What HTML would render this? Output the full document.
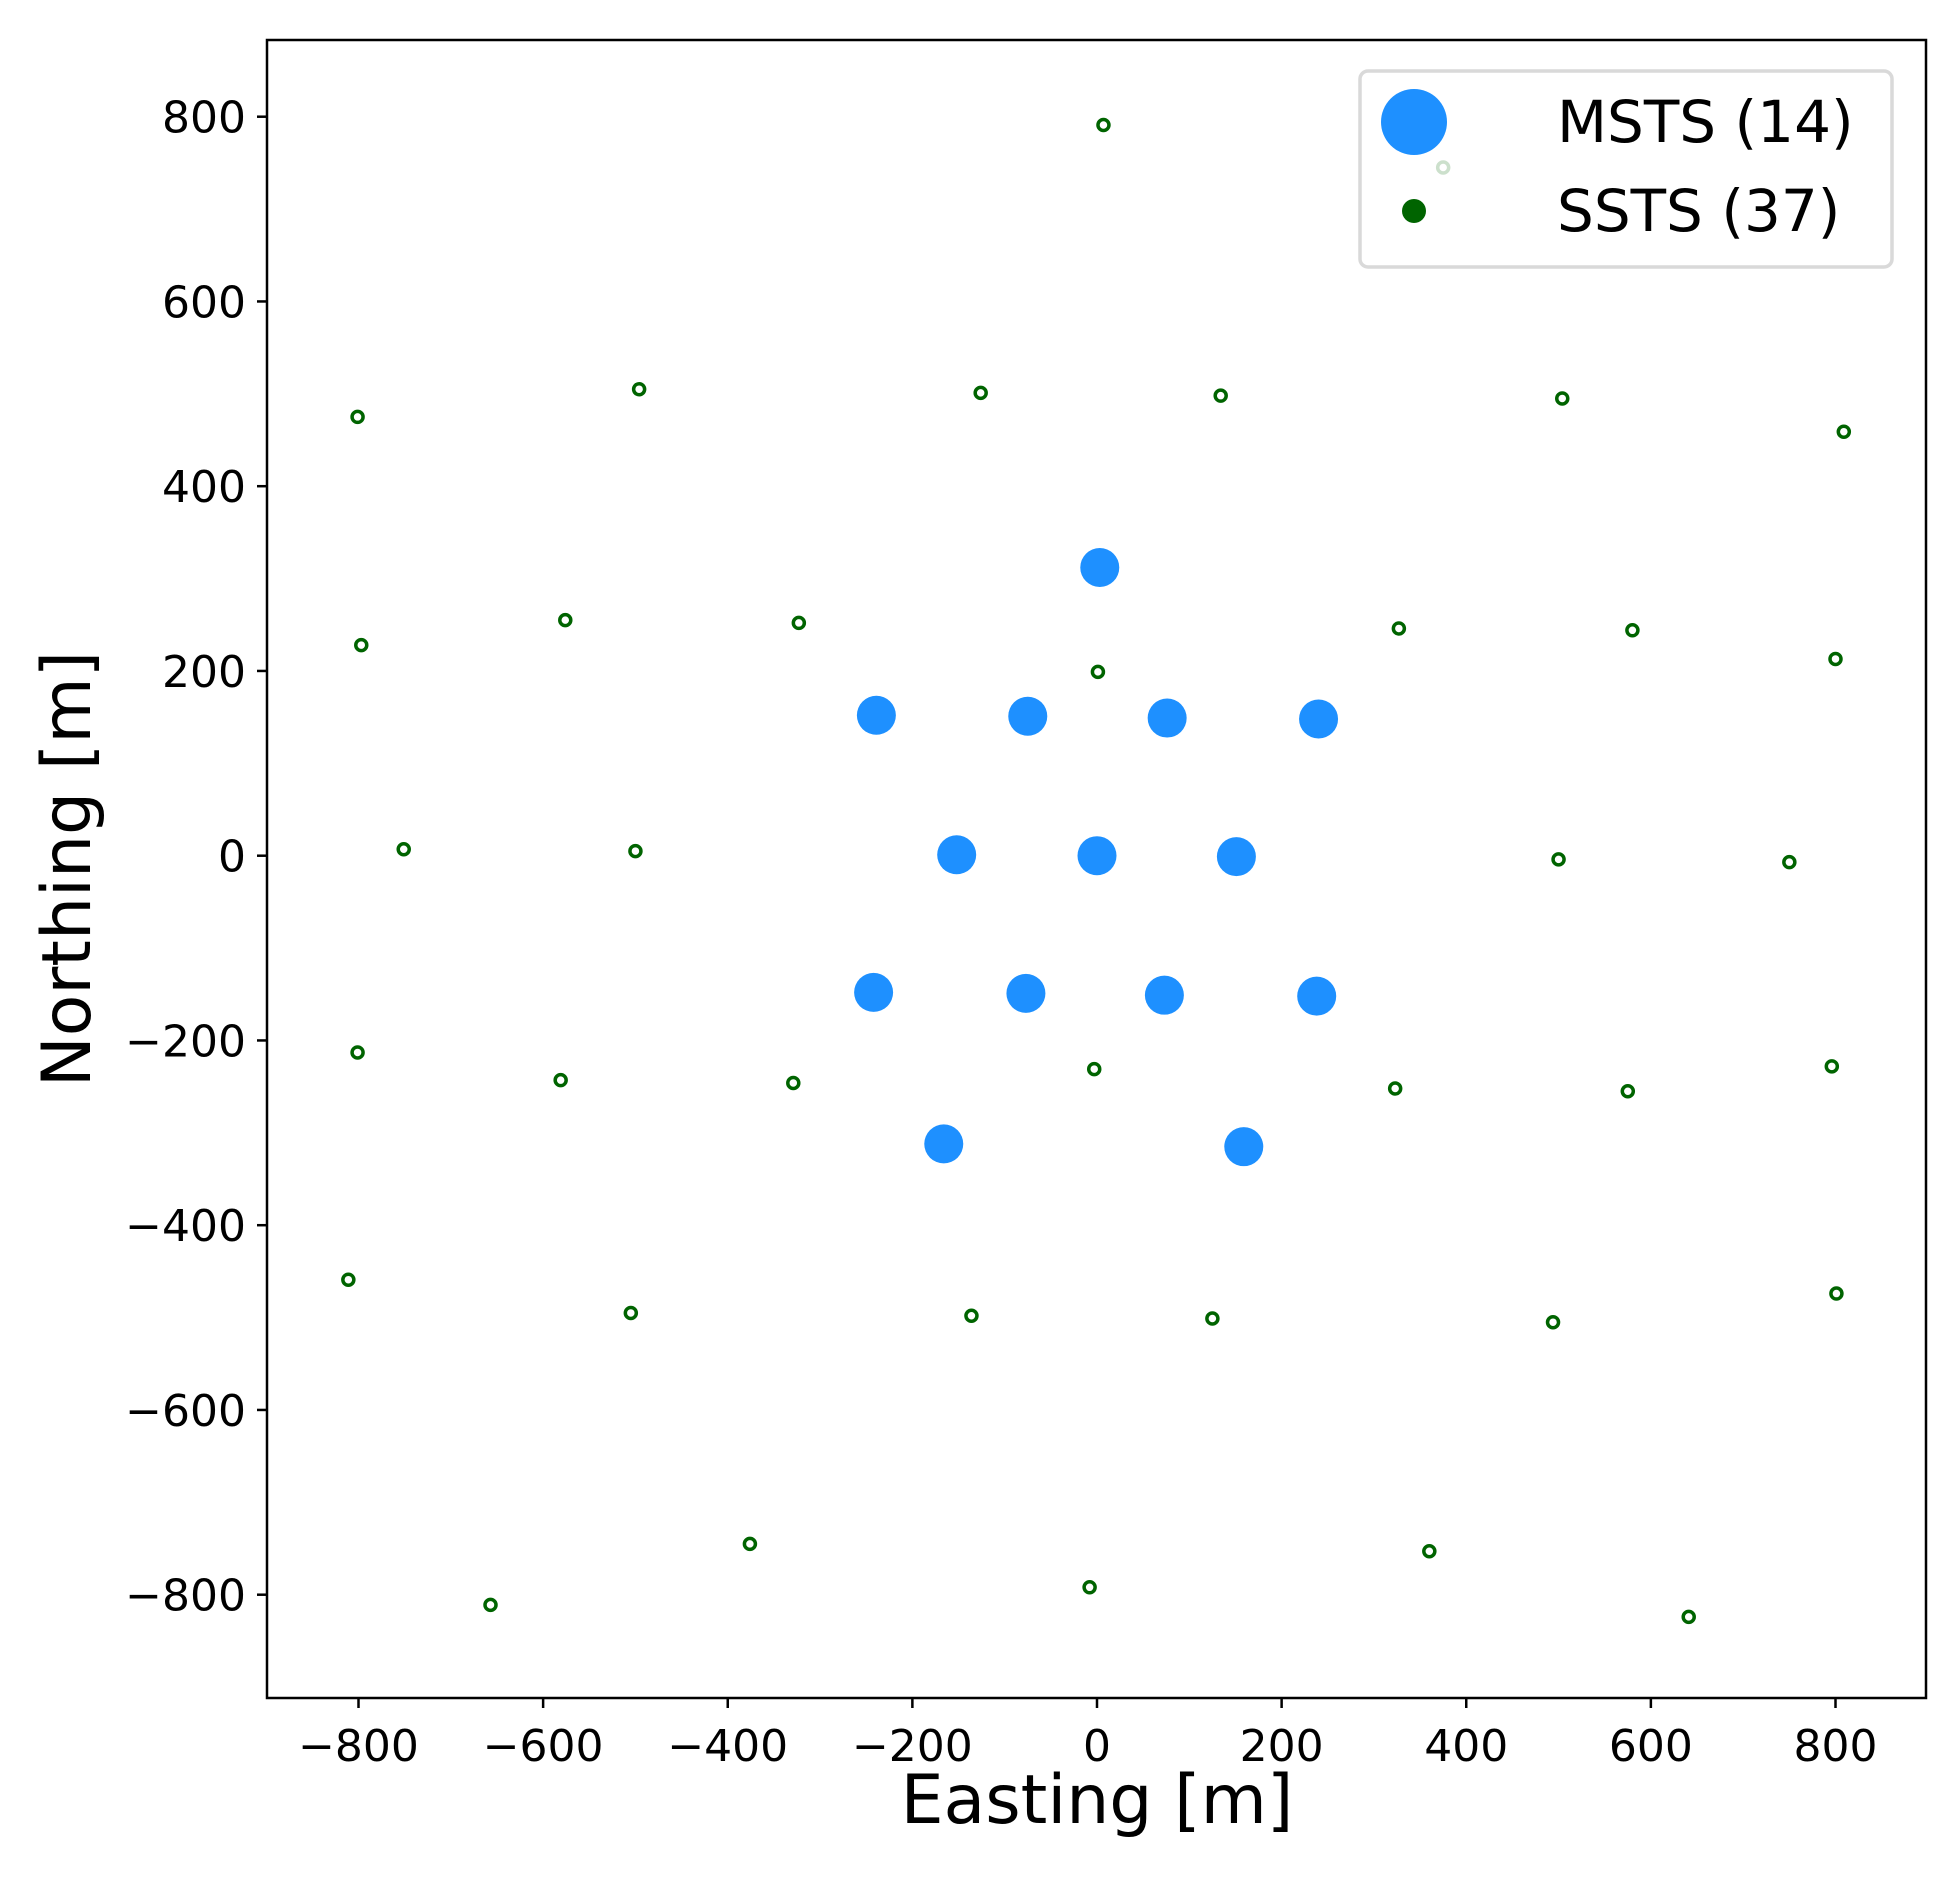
<!DOCTYPE html>
<html><head><meta charset="utf-8"><style>
html,body{margin:0;padding:0;background:#fff;}
svg{display:block;font-family:"DejaVu Sans","Liberation Sans",sans-serif;}
</style></head><body>
<svg id="chart" width="1956" height="1877" viewBox="0 0 1956 1877" xmlns="http://www.w3.org/2000/svg">
<rect x="0" y="0" width="1956" height="1877" fill="#fff"/>
<g id="ticks"></g>
<g id="ssts"></g>
<g id="msts"></g>
<rect x="267" y="40" width="1659" height="1658" fill="none" stroke="#000" stroke-width="2.5"/>
<g>
<rect x="1360" y="71" width="532" height="196" rx="8" fill="#fff" fill-opacity="0.8" stroke="#d9d9d9" stroke-width="3.5"/>
<circle cx="1414" cy="122" r="33" fill="#1e90ff"/>
<text x="1557" y="142" font-size="58" fill="#000">MSTS (14)</text>
<circle cx="1414" cy="211" r="12" fill="#006400"/>
<text x="1557" y="231" font-size="58" fill="#000">SSTS (37)</text>
</g>
<text x="1097" y="1823" font-size="68" text-anchor="middle">Easting [m]</text>
<text transform="translate(90,869) rotate(-90)" font-size="68" text-anchor="middle">Northing [m]</text>
</svg>
<script>
const xTicks = [-800,-600,-400,-200,0,200,400,600,800];
const yTicks = [-800,-600,-400,-200,0,200,400,600,800];
const mstsX = [3,-239,-75,76,240,-152,0,151,-242,-77,73,238,-166,159];
const mstsY = [312,152,151,149,148,1,0,-1,-148,-149,-151,-152,-312,-315];
const sstsX = [7,375,-801,-496,-126,134,504,809,-797,-576,-323,1,327,580,800,-751,-500,500,750,-801,-581,-329,-3,323,575,796,-811,-505,-136,125,494,801,-376,-657,-8,360,641];
const sstsY = [791,745,475,505,501,498,495,459,228,255,252,199,246,244,213,7,5,-4,-7,-213,-243,-246,-231,-252,-255,-228,-459,-495,-498,-501,-505,-474,-745,-811,-792,-753,-824];
const NS = 'http://www.w3.org/2000/svg';
function sx(v){ return 1097 + v * (1477/1600); }
function sy(v){ return 855.7 - v * (1478/1600); }
const tg = document.getElementById('ticks');
function mk(tag, attrs, parent){ const e=document.createElementNS(NS,tag); for(const k in attrs) e.setAttribute(k,attrs[k]); parent.appendChild(e); return e; }
xTicks.forEach(t=>{
  const l = mk('line',{x1:sx(t),x2:sx(t),y1:1698,y2:1708,stroke:'#000','stroke-width':2.5},tg);
  
  
  const tx = mk('text',{x:sx(t),y:1761,'font-size':44,'text-anchor':'middle'},tg);
  tx.textContent = (t<0?'\u2212':'')+Math.abs(t);
  
  
});
yTicks.forEach(t=>{
  const l = mk('line',{x1:257,x2:267,y1:sy(t),y2:sy(t),stroke:'#000','stroke-width':2.5},tg);
  
  
  const tx = mk('text',{x:246,y:sy(t)+16,'font-size':44,'text-anchor':'end'},tg);
  tx.textContent = (t<0?'\u2212':'')+Math.abs(t);
  
  
});
const sg = document.getElementById('ssts');
sstsX.forEach((v,i)=>{
  const c = mk('circle',{cx:sx(v),cy:sy(sstsY[i]),r:5.5,fill:'#fff',stroke:'#006400','stroke-width':3.5},sg);
  
  
});
const mg = document.getElementById('msts');
mstsX.forEach((v,i)=>{
  const c = mk('circle',{cx:sx(v),cy:sy(mstsY[i]),r:19.5,fill:'#1e90ff'},mg);
  
  
});
</script>
</body></html>
